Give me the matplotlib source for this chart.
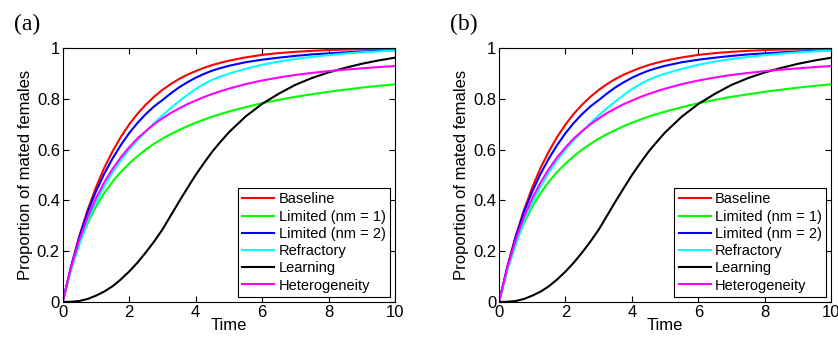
import numpy as np
import matplotlib
matplotlib.use('Agg')
import matplotlib.pyplot as plt
from matplotlib.ticker import FormatStrFormatter

plt.rcParams['font.family'] = ['Liberation Sans', 'DejaVu Sans']

# time points
time = [0, 0.25, 0.5, 0.75, 1, 1.25, 1.5, 1.75, 2, 2.25, 2.5, 2.75, 3, 3.25, 3.5, 3.75, 4, 4.25, 4.5, 4.75,
        5, 5.5, 6, 6.5, 7, 7.5, 8, 8.5, 9, 9.5, 10]

baseline = [0, 0.139, 0.259, 0.362, 0.451, 0.528, 0.593, 0.650, 0.699, 0.741, 0.777, 0.808, 0.835, 0.858,
            0.878, 0.895, 0.909, 0.922, 0.933, 0.942, 0.950,
            0.963, 0.973, 0.980, 0.985, 0.989, 0.992, 0.994, 0.995, 0.997, 0.998]
limited1 = [0, 0.130, 0.231, 0.310, 0.375, 0.429, 0.474, 0.512, 0.545, 0.574, 0.600, 0.623, 0.643, 0.661,
            0.677, 0.692, 0.706, 0.718, 0.730, 0.740, 0.750,
            0.767, 0.783, 0.796, 0.808, 0.818, 0.828, 0.836, 0.844, 0.851, 0.857]
limited2 = [0, 0.137, 0.255, 0.355, 0.435, 0.505, 0.565, 0.618, 0.665, 0.705, 0.740, 0.770, 0.795, 0.821,
            0.845, 0.865, 0.883, 0.898, 0.911, 0.921, 0.930,
            0.944, 0.954, 0.962, 0.969, 0.975, 0.979, 0.983, 0.986, 0.989, 0.991]
refractory = [0, 0.125, 0.225, 0.320, 0.390, 0.455, 0.510, 0.558, 0.600, 0.637, 0.670, 0.704, 0.735, 0.763,
              0.790, 0.815, 0.838, 0.858, 0.875, 0.888, 0.899,
              0.918, 0.934, 0.947, 0.957, 0.965, 0.972, 0.978, 0.983, 0.987, 0.990]
learning = [0, 0.001, 0.004, 0.012, 0.025, 0.041, 0.062, 0.089, 0.120, 0.155, 0.195, 0.238, 0.285, 0.340,
            0.395, 0.448, 0.500, 0.547, 0.592, 0.631, 0.668,
            0.730, 0.780, 0.820, 0.855, 0.882, 0.904, 0.922, 0.938, 0.951, 0.962]
heterogeneity = [0, 0.135, 0.244, 0.334, 0.408, 0.471, 0.524, 0.570, 0.609, 0.644, 0.673, 0.700, 0.723, 0.744,
                 0.762, 0.779, 0.793, 0.807, 0.819, 0.830, 0.840,
                 0.858, 0.872, 0.884, 0.894, 0.902, 0.909, 0.915, 0.920, 0.925, 0.929]

series = [
    ('Baseline', baseline, (1, 0, 0)),
    ('Limited (nm = 1)', limited1, (0, 1, 0)),
    ('Limited (nm = 2)', limited2, (0, 0, 1)),
    ('Refractory', refractory, (0, 1, 1)),
    ('Learning', learning, (0, 0, 0)),
    ('Heterogeneity', heterogeneity, (1, 0, 1)),
]
panels = ['(a)', '(b)']

fig = plt.figure(figsize=(8.38, 3.43), dpi=100)
lefts = [0.0748, 0.5955]

for left, tag in zip(lefts, panels):
    ax = fig.add_axes([left, 0.1195, 0.3966, 0.7405])
    for name, vals, col in series:
        ax.plot(time, vals, color=col, lw=1.5, label=name)
    ax.set_xlim(0, 10)
    ax.set_ylim(0, 1)
    ax.set_xticks([0, 2, 4, 6, 8, 10])
    ax.set_yticks([0, 0.2, 0.4, 0.6, 0.8, 1])
    ax.yaxis.set_major_formatter(FormatStrFormatter('%g'))
    ax.tick_params(direction='in', top=True, right=True, length=4, labelsize=12, pad=2)
    for sp in ax.spines.values():
        sp.set_linewidth(0.8)
    ax.set_xlabel('Time', fontsize=12, labelpad=-1)
    ax.set_ylabel('Proportion of mated females', fontsize=12, labelpad=3)
    leg = ax.legend(loc='lower right', fontsize=10.5, frameon=True, fancybox=False,
                    edgecolor='black', framealpha=1, handlelength=2.2, handletextpad=0.3,
                    labelspacing=0.22, borderpad=0.3, borderaxespad=0.35)
    leg.get_frame().set_linewidth(0.8)
    fig.text(left - 0.058, 0.93, tag, fontsize=17, family='Liberation Serif',
             ha='left', va='center')

fig.savefig('out.png', dpi=100)
